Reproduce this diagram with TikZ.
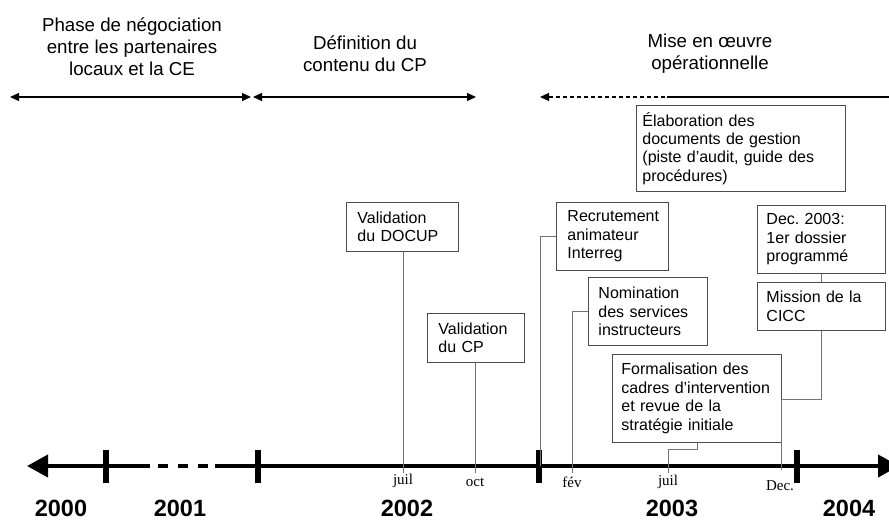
\documentclass[tikz,border=0pt]{standalone}
\usepackage{fontspec}
\setmainfont{Liberation Sans}
\newfontfamily\monthfont{Liberation Serif}
\usetikzlibrary{arrows.meta}
\definecolor{boxgray}{gray}{0.30}
\definecolor{linkgray}{gray}{0.45}
\frenchspacing
\begin{document}
\begin{tikzpicture}[x=1pt,y=-1pt,
  box/.style={draw=boxgray, line width=0.9pt, anchor=north west, inner xsep=#1, inner ysep=0pt,
     align=left, font=\fontsize{16}{18.4}\selectfont},
  box/.default=10pt,
  link/.style={draw=linkgray, line width=0.9pt},
  phase/.style={align=center, font=\fontsize{18.7}{21.8}\selectfont},
  span/.style={line width=1.3pt, {Triangle[length=9pt,width=8pt]}-{Triangle[length=9pt,width=8pt]}},
  axis/.style={line width=4pt},
  tick/.style={line width=6pt},
  month/.style={font=\monthfont\fontsize{15}{15}\selectfont},
  year/.style={font=\bfseries\fontsize{23.5}{24}\selectfont}
]
\useasboundingbox (0,0) rectangle (889,520);
\clip (0,0) rectangle (889,520);

% phase titles
\node[phase] (ph1) at (132,47) {Phase de négociation\\entre les partenaires\\locaux et la CE};
\node[phase] (ph2) at (365,54) {Définition du\\contenu du CP};
\node[phase] (ph3) at (710,54) {Mise en \oe uvre\\opérationnelle};

% phase spans
\coordinate (s1a) at (10,97);  \coordinate (s1b) at (251,97);
\coordinate (s2a) at (253,97); \coordinate (s2b) at (476,97);
\coordinate (s3a) at (540,97); \coordinate (s3m) at (667,97); \coordinate (s3b) at (889,97);
\draw[span] (s1a) -- (s1b);
\draw[span] (s2a) -- (s2b);
\draw[line width=1.3pt, dash pattern=on 4pt off 3pt, {Triangle[length=9pt,width=8pt]}-] (s3a) -- (s3m);
\draw[line width=1.3pt] (s3m) -- (s3b);

% timeline
\coordinate (tlL) at (27,466);
\coordinate (tlA) at (150,466);
\coordinate (tlD1) at (158,466);
\coordinate (tlD2) at (208,466);
\coordinate (tlB) at (215,466);
\coordinate (tlR) at (899,466);
\draw[axis, {Triangle[length=21pt,width=22pt]}-] (tlL) -- (tlA);
\draw[axis, dash pattern=on 10pt off 10pt] (tlD1) -- (tlD2);
\draw[axis, -{Triangle[length=21pt,width=22pt]}] (tlB) -- (tlR);

% year ticks
\coordinate (t1) at (106,466); \coordinate (t2) at (258,466);
\coordinate (t3) at (539,466); \coordinate (t4) at (797,466);
\foreach \t in {t1,t2,t3,t4}{\draw[tick] ([yshift=-16.5pt]\t) -- ([yshift=16.5pt]\t);}

% month points
\coordinate (mJul2) at (403,473);
\coordinate (mOct) at (475,473);
\coordinate (mRec) at (540,466);
\coordinate (mFev) at (572,473);
\coordinate (mJul3) at (668,473);
\coordinate (mDec) at (781,470);

\node[month] (lJul2) at (403,481) {juil};
\node[month] (lOct) at (475,482) {oct};
\node[month] (lFev) at (572,482) {fév};
\node[month] (lJul3) at (668,482) {juil};
\node[month] (lDec) at (780,486) {Dec.};

\node[year] (y0) at (61,508) {2000};
\node[year] (y1) at (180,508) {2001};
\node[year] (y2) at (407,508) {2002};
\node[year] (y3) at (672,508) {2003};
\node[year] (y4) at (849,508) {2004};

% boxes
\node[box=11pt, text width=90pt, minimum height=49pt] (docup) at (346,202) {Validation\\du DOCUP};
\node[box=11pt, text width=75pt, minimum height=49pt] (cp) at (427,313) {Validation\\du CP};
\node[box=11pt, text width=90pt, minimum height=68pt] (recr) at (556,202) {Recrutement\\animateur\\Interreg};
\node[box=10pt, text width=99pt, minimum height=68pt] (nomin) at (588,277) {Nomination\\des services\\instructeurs};
\node[box=9pt, text width=151pt, minimum height=88pt] (form) at (612,354) {Formalisation des\\cadres d’intervention\\et revue de la\\stratégie initiale};
\node[box=6pt, text width=197pt, minimum height=86pt] (elab) at (636,105) {Élaboration des\\documents de gestion\\(piste d’audit, guide des\\procédures)};
\node[box=9pt, text width=110pt, minimum height=68pt] (dec) at (757,205) {Dec. 2003:\\1er dossier\\programmé};
\node[box=9pt, text width=110pt, minimum height=48pt] (miss) at (757,282) {Mission de la\\CICC};

% connectors
\draw[link] (docup.south -| mJul2) -- (mJul2);
\draw[link] (cp.south -| mOct) -- (mOct);
\draw[link] (recr.west) -| (mRec);
\draw[link] (nomin.west) -| (mFev);
\draw[link] (form.south) -- ++(0,7) -| (mJul3);
\draw[link] (dec.south) -- (miss.north);
\draw[link] (miss.south) -- ++(0,69) -| (mDec);
\end{tikzpicture}
\end{document}
